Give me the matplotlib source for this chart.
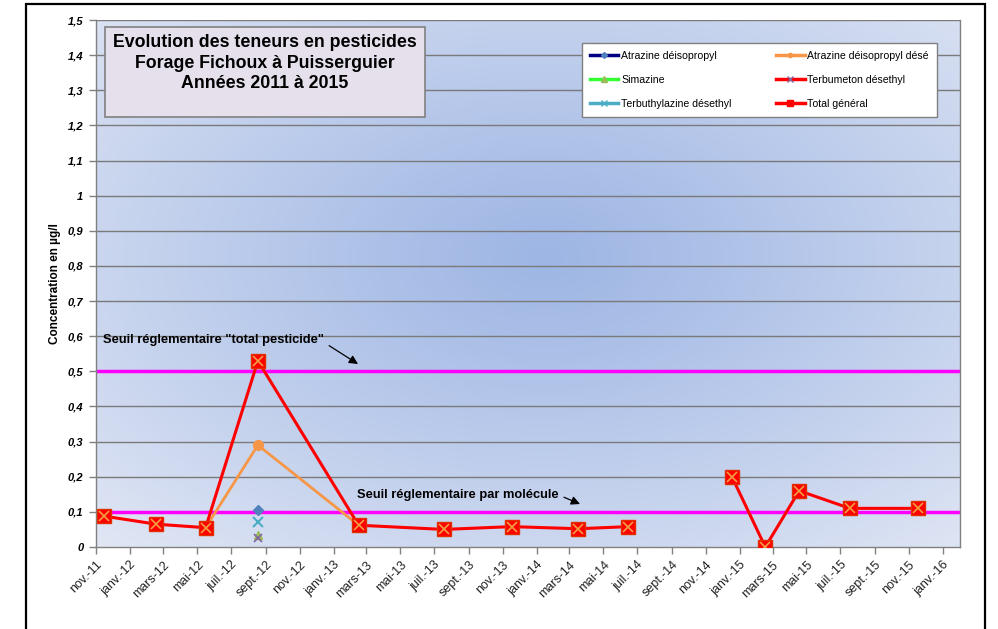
import datetime as dt

import numpy as np
import matplotlib
matplotlib.use("Agg")
import matplotlib.pyplot as plt
import matplotlib.dates as mdates
from matplotlib.patches import Rectangle
from matplotlib.transforms import ScaledTranslation

plt.rcParams["font.family"] = ["Liberation Sans", "DejaVu Sans"]

# --- data ------------------------------------------------------------------
total_dates = [dt.date(2011, 11, 15), dt.date(2012, 2, 17), dt.date(2012, 5, 16),
               dt.date(2012, 8, 18), dt.date(2013, 2, 15), dt.date(2013, 7, 18),
               dt.date(2013, 11, 17), dt.date(2014, 3, 17), dt.date(2014, 6, 15),
               dt.date(2014, 9, 15),
               dt.date(2014, 12, 18), dt.date(2015, 2, 16), dt.date(2015, 4, 18),
               dt.date(2015, 7, 18), dt.date(2015, 11, 17)]
total_vals = [0.088, 0.065, 0.055, 0.53, 0.062, 0.05, 0.058, 0.052, 0.058,
              np.nan,
              0.20, 0.0, 0.16, 0.11, 0.11]

desethyl_dates = [dt.date(2012, 5, 16), dt.date(2012, 8, 18), dt.date(2013, 2, 15)]
desethyl_vals = [0.055, 0.29, 0.062]

sample_date = [dt.date(2012, 8, 18)]
atrazine_dip = [0.105]
simazine = [0.034]
terbumeton = [0.025]
terbuthylazine = [0.072]

tick_dates = [dt.date(2011 + (10 + 2 * i) // 12, (10 + 2 * i) % 12 + 1, 1) for i in range(26)]
mois = {1: "janv.", 3: "mars", 5: "mai", 7: "juil.", 9: "sept.", 11: "nov."}
tick_labels = [f"{mois[d.month]}-{d.year % 100:02d}" for d in tick_dates]

seuil_total = 0.5
seuil_molecule = 0.1

# --- figure -----------------------------------------------------------------
fig = plt.figure(figsize=(9.98, 6.29), dpi=100)
W, H = 998, 629

# outer frame
fig.patches.append(Rectangle((26 / W, -0.05), (985 - 26) / W, 1 - 4 / H + 0.05,
                             transform=fig.transFigure, fill=False,
                             edgecolor="black", lw=1.6, zorder=0))

pos = [96 / W, 1 - 547 / H, (960 - 96) / W, (547 - 20) / H]

# gradient background in its own axes
bg = fig.add_axes(pos, zorder=0)
bg.set_axis_off()
yy, xx = np.mgrid[0:1:300j, 0:1:500j]
d = np.sqrt(((xx - 0.52) / 0.75) ** 2 + ((yy - 0.55) / 0.75) ** 2)
d = np.clip(d, 0, 1) ** 1.1
c0 = np.array([158, 182, 228]) / 255
c1 = np.array([224, 230, 244]) / 255
img = c0[None, None, :] * (1 - d[..., None]) + c1[None, None, :] * d[..., None]
bg.imshow(img, extent=[0, 1, 0, 1], origin="lower", aspect="auto")
bg.set_xlim(0, 1)
bg.set_ylim(0, 1)

ax = fig.add_axes(pos, zorder=1)
ax.patch.set_alpha(0)

for v in np.arange(0.1, 1.51, 0.1):
    ax.axhline(v, color="#7a7a7a", lw=1.0, zorder=1)

ax.axhline(seuil_total, color="#ff00ff", lw=2.5, zorder=2)
ax.axhline(seuil_molecule, color="#ff00ff", lw=2.5, zorder=2)

ax.plot(desethyl_dates, desethyl_vals, color="#f79646", lw=2, marker="o",
        ms=7, mfc="#f79646", mec="#f79646", zorder=3)
ax.plot(total_dates, total_vals, color="#ff0000", lw=2.2, marker="s", ms=10,
        mfc="#ff0000", mec="#e03000", zorder=4)
ax.plot(total_dates, total_vals, ls="none", marker="x", ms=7, mew=1.2,
        color="#f0a040", zorder=5)

ax.plot(sample_date, atrazine_dip, ls="none", marker="D", ms=5, color="#4f81bd", zorder=6)
ax.plot(sample_date, terbuthylazine, ls="none", marker="x", ms=7, mew=1.5, color="#4bacc6", zorder=6)
ax.plot(sample_date, simazine, ls="none", marker="^", ms=6, color="#9bbb59", zorder=6)
ax.plot(sample_date, terbumeton, ls="none", marker="x", ms=6, mew=1.2, color="#8064a2", zorder=6)

# legend (proxy lines)
h = []
h += ax.plot([], [], color="#000080", lw=2.5, marker="D", ms=3, mfc="#4f81bd", mec="#4f81bd", label="Atrazine déisopropyl")
h += ax.plot([], [], color="#f79646", lw=2.5, marker="o", ms=3, label="Atrazine déisopropyl désé")
h += ax.plot([], [], color="#33ff33", lw=2.5, marker="^", ms=4, mfc="#9bbb59", mec="#9bbb59", label="Simazine")
h += ax.plot([], [], color="#ff0000", lw=2.5, marker="x", ms=4, mec="#8064a2", label="Terbumeton désethyl")
h += ax.plot([], [], color="#4bacc6", lw=2.5, marker="x", ms=4, label="Terbuthylazine désethyl")
h += ax.plot([], [], color="#ff0000", lw=2.5, marker="s", ms=4, label="Total général")
order = [0, 2, 4, 1, 3, 5]
leg = ax.legend([h[i] for i in order], [h[i].get_label() for i in order],
                ncol=2, fontsize=7.6, handlelength=2.7, labelspacing=1.35,
                loc="lower left", mode="expand", borderaxespad=0,
                bbox_to_anchor=(0.5625, 0.816, 0.4105, 0.138),
                fancybox=False, framealpha=1, edgecolor="#808080",
                borderpad=0.75, handletextpad=0.25)
leg.get_frame().set_linewidth(1.0)

# title box
fig.patches.append(Rectangle((105 / W, 1 - 117 / H), 320 / W, 90 / H,
                             transform=fig.transFigure, facecolor="#e6e0ec",
                             edgecolor="#808080", lw=1.2, zorder=5))
fig.text(265 / W, 1 - 63 / H,
         "Evolution des teneurs en pesticides\nForage Fichoux à Puisserguier\nAnnées 2011 à 2015",
         ha="center", va="center", fontsize=12.8, fontweight="bold",
         linespacing=1.3, zorder=6)

# threshold annotations
arrow = dict(arrowstyle="-|>", color="black", lw=0.9, mutation_scale=13,
             shrinkA=2, shrinkB=0)
ax.annotate('Seuil réglementaire "total pesticide"', xy=(358 / W, 1 - 364 / H),
            xycoords="figure fraction", xytext=(103 / W, 1 - 340 / H),
            textcoords="figure fraction", fontsize=9.3, fontweight="bold",
            va="center", ha="left",
            arrowprops=dict(arrow, relpos=(1.0, 0.3)))
ax.annotate("Seuil réglementaire par molécule", xy=(580 / W, 1 - 504 / H),
            xycoords="figure fraction", xytext=(357 / W, 1 - 495 / H),
            textcoords="figure fraction", fontsize=9.3, fontweight="bold",
            va="center", ha="left",
            arrowprops=dict(arrow, relpos=(1.0, 0.5)))

# axes
ax.set_xlim(dt.date(2011, 11, 1), dt.date(2016, 2, 1))
ax.set_ylim(0, 1.5)
yt = np.round(np.arange(0, 1.51, 0.1), 1)
ax.set_yticks(yt)
ax.set_yticklabels([f"{v:g}".replace(".", ",") for v in yt],
                   fontsize=8, fontweight="bold", fontstyle="italic")
ax.set_xticks([mdates.date2num(d) for d in tick_dates])
ax.set_xticklabels(tick_labels, rotation=45, ha="right", va="top",
                   rotation_mode="anchor", fontsize=9, color="#222222")
off = ScaledTranslation(11 / 100, -1 / 100, fig.dpi_scale_trans)
for lab in ax.get_xticklabels():
    lab.set_transform(lab.get_transform() + off)
ax.tick_params(axis="both", direction="out", length=5, color="#808080", width=1)
ax.tick_params(axis="y", pad=4)
for s in ax.spines.values():
    s.set_color("#808080")
    s.set_linewidth(1.0)
ax.spines["top"].set_visible(False)

ax.set_ylabel("Concentration en µg/l", fontsize=8.5, fontweight="bold", labelpad=5)

fig.savefig("out.png", dpi=100)
